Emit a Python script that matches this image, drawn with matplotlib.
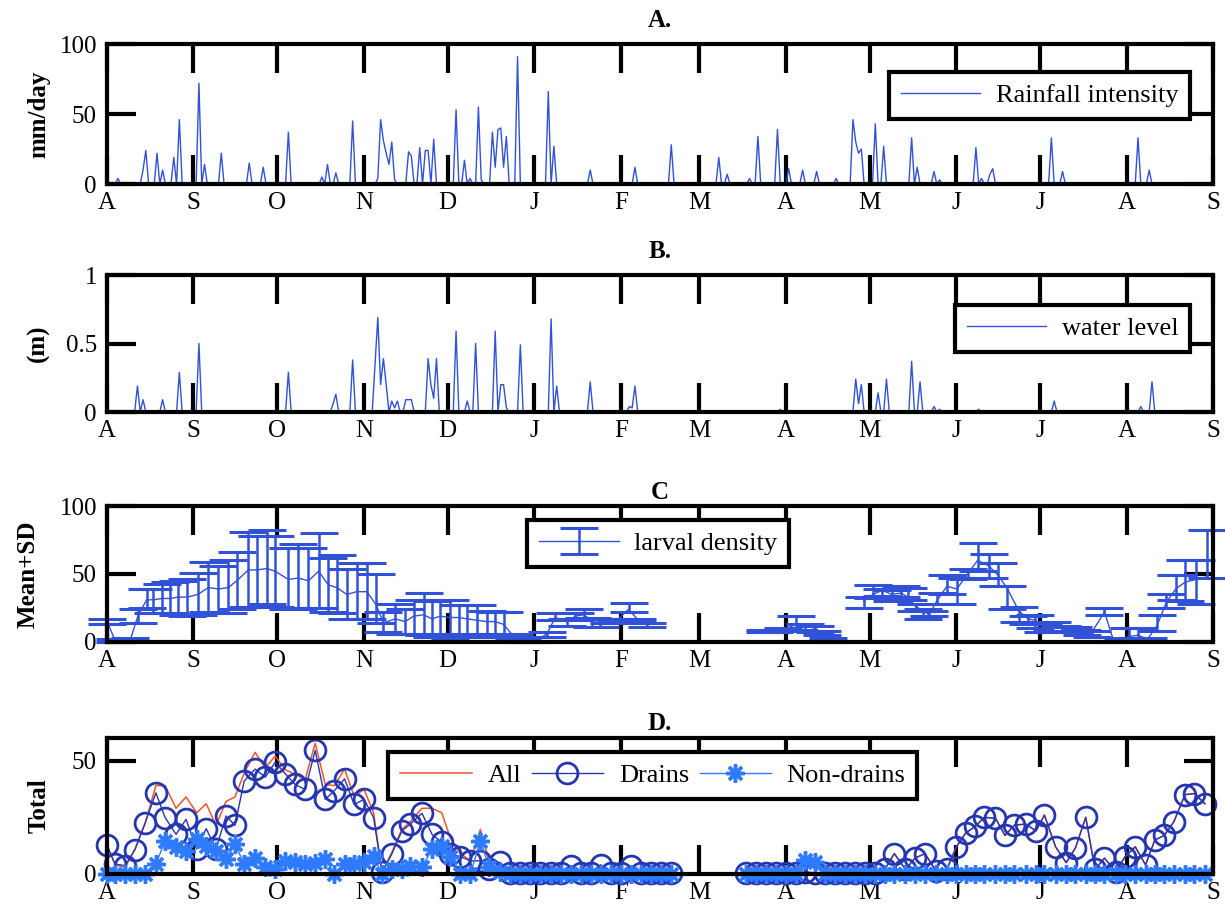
import matplotlib
matplotlib.use('Agg')
import matplotlib.pyplot as plt
import numpy as np

plt.rcParams['font.family'] = ['Liberation Serif', 'DejaVu Serif']

# month starts, days counted from 1 August
month_days = [0, 31, 61, 92, 122, 153, 184, 212, 243, 273, 304, 334, 365, 396]
month_labels = ['A', 'S', 'O', 'N', 'D', 'J', 'F', 'M', 'A', 'M', 'J', 'J', 'A', 'S']

# A. rainfall intensity (mm/day), days with rain
rain_days = [0, 4, 13, 14, 18, 20, 24, 26, 33, 35, 41, 51, 56, 65, 77, 79, 82, 88,
             97, 98, 99, 100, 101, 102, 103, 108, 109, 112, 114, 115, 117, 125, 128,
             130, 133, 134, 138, 139, 140, 141, 142, 143, 147, 158, 160, 173, 189,
             202, 219, 222, 230, 233, 240, 244, 249, 254, 261, 267, 268, 269, 270,
             275, 278, 288, 290, 296, 298, 311, 313, 316, 317, 338, 342, 369, 373]
rain_vals = [4, 4, 10, 24, 22, 10, 19, 46, 72, 14, 22, 15, 12, 37, 5, 14, 8, 45,
             4, 46, 31, 22, 14, 30, 3, 23, 20, 26, 24, 24, 32, 53, 17,
             4, 55, 3, 37, 12, 39, 40, 12, 34, 91, 66, 27, 10, 12,
             28, 19, 7, 4, 34, 39, 11, 10, 9, 4, 46, 30, 22, 25,
             43, 27, 33, 12, 9, 3, 26, 4, 7, 11, 33, 9, 33, 10]

# B. water level (m)
wl_days = [11, 13, 20, 26, 33, 65, 81, 82, 88, 96, 97, 98, 99, 100, 102, 103, 104,
           107, 108, 109, 115, 116, 117, 118, 125, 129, 132, 139, 141, 142, 143,
           148, 159, 161, 173, 187, 188, 189, 241, 268, 269, 270, 276, 279, 288,
           291, 296, 298, 312, 339, 370, 374]
wl_vals = [0.19, 0.09, 0.09, 0.29, 0.50, 0.29, 0.06, 0.13, 0.38, 0.35, 0.69, 0.20,
           0.39, 0.20, 0.08, 0.03, 0.08, 0.09, 0.09, 0.09, 0.39, 0.20, 0.10, 0.39,
           0.59, 0.08, 0.50, 0.59, 0.20, 0.20, 0.03, 0.49, 0.68, 0.19, 0.22, 0.04,
           0.03, 0.19, 0.02, 0.24, 0.06, 0.20, 0.14, 0.24, 0.37, 0.22, 0.04, 0.02,
           0.02, 0.08, 0.04, 0.22]

# C. larval density: sampling days, mean, upper and lower bar ends
c_days = [0.2, 3, 6, 8.5, 11.3, 14.3, 16.7, 19.7, 22.7, 25.6, 28.9, 32.6, 36.4, 40,
          43.5, 46.5, 50.7, 53.7, 57.3, 60.3, 65, 68.6, 72.2, 75.8, 79.3, 82.3,
          85.9, 89.5, 93.1, 96.5, 99, 103.2, 106.8, 109.8, 113.4, 116.4, 119.3,
          122.9, 125.9, 128.9, 132.5, 136, 139, 142, 145.6, 148.6, 151.6, 154.5,
          157.5, 160.5, 164.7, 167.7, 170.6, 173.6, 176.6, 179.6, 182.6, 186.7,
          189.8, 193.3, np.nan,
          235.4, 238.7, 242, 246.8, 250, 253.4, 256, 258, np.nan,
          270.8, 274.2, 277.5, 280.9, 284.2, 286.6, 289.5, 292.2, 294.2, 297,
          300.6, 304.2, 308, 311.6, 315.6, 319, 322.3, 326.3, 329.6, 332.3, 335,
          338.3, 341.7, 345.7, 349, 352.4, 357, 360.4, 363.7, 365.7, 369, 372.4,
          375.8, 379.1, 382.5, 385.8, 389.8, 393.8]
c_mean = [15, 1, 1, 2, 20, 31, 31, 32, 32, 33, 33, 35, 40, 39, 40, 45, 53, 53, 54,
          52, 46, 47, 45, 52, 42, 40, 35, 37, 37, 27, 14, 17, 15, 19, 20, 17, 19,
          18, 18, 17, 16, 15, 15, 13, 4, 1, 2, 2, 6, 18, 15, 19, 20, 16, 15, 16,
          16, 24, 17, 13, np.nan,
          8, 8, 9, 13, 12, 10, 7, 1, np.nan,
          30, 35, 38, 35, 36, 33, 26, 23, 20, 30, 41, 39, 50, 60, 56, 49, 39, 23,
          17, 16, 12, 12, 10, 9, 8, 7, 22, 0, 2, 4, 5, 2, 12, 29, 39, 44, 46, 48]
c_upper = [17, 2, 2, 3, 24, 39, 39, 43, 44, 45, 46, 51, 59, 56, 60, 66, 81, 78, 82,
           78, 69, 72, 69, 80, 62, 64, 54, 58, 58, 50, 22, 28, 24, 31, 36, 30, 31,
           31, 27, 27, 27, 23, 22, 22, 6, 3, 4, 4, 7, 21, 17, 21, 24, 18, 17, 17,
           17, 29, 17, 14, np.nan,
           9, 9, 10, 19, 13, 12, 8, 3, np.nan,
           33, 42, 39, 38, 41, 40, 28, 24, 23, 36, 49, 47, 54, 73, 65, 58, 41, 26,
           19, 20, 13, 15, 12, 11, 9, 8, 25, 0.5, 3, 10, 10, 3, 20, 35, 49, 60, 60, 82]
c_lower = [13, 0, 0, 1, 14, 25, 21, 21, 21, 20, 19, 20, 22, 21, 21, 24, 26, 26, 28,
           26, 24, 24, 25, 25, 22, 21, 17, 17, 17, 14, 7, 6, 6, 6, 5, 4, 6,
           3, 4, 6, 4, 4, 6, 4, 2, 0, 0, 0, 4, 16, 12, 16, 18, 11, 11, 14,
           15, 22, 15, 11, np.nan,
           7, 7, 8, 9, 8, 7, 5, 0, np.nan,
           25, 32, 34, 30, 33, 31, 23, 17, 19, 28, 35, 28, 46, 52, 47, 41, 24, 15,
           13, 10, 7, 8, 8, 7, 5, 4, 20, 0, 1, 2, 3, 1, 8, 25, 31, 30, 28, 47]

# D. totals: all sites, drains, non-drains
d_days = [0, 3, 6.6, 10.1, 13.7, 17.6, 20.9, 24.8, 28.4, 32.2, 35.6, 39.1, 42.7,
          45.9, 49.2, 53.1, 56.7, 60.3, 63.9, 67.4, 71, 74.6, 78.2, 81.5, 85.1,
          88.5, 92.1, 95.5, 98.5, 102, 105.6, 108.6, 112.8, 116.4, 119.9, 122.9,
          126.5, 130.1, 133.7, 136.9, 140.8, 144.4, 148, 151.6, 155.2, 158.8,
          162.4, 166, 169.6, 173.2, 176.8, 180.4, 184, 187.6, 191.2, 194.8, 198.4,
          202, np.nan,
          228.7, 232.3, 235.8, 239.4, 242.9, 246.5, 250, 253.6, 257.1, 260.7,
          264.2, 267.8, 271.3, 274.9, 278.4, 281.8, 285.8, 289.2, 292.8, 296.6,
          300.6, 304, 307.3, 310.7, 314, 318, 321.4, 324.8, 328.8, 332.5, 335.5,
          339.5, 343.3, 346.6, 350.3, 353.6, 357, 361, 364.3, 368, 371.7, 375,
          378.4, 381.8, 385.8, 389.2, 392.9]
d_drains = [13, 4.4, 3.7, 10.7, 22.4, 35.8, 24.9, 17.5, 24.1, 11, 20, 11, 25.6,
            21.5, 41, 46.3, 42.7, 49.3, 44.2, 39.5, 37.3, 54.5, 32.9, 36.8, 42,
            30.7, 32.9, 24.9, 0.7, 8.8, 19, 22, 26.8, 17.5, 14, 8.8, 7.7, 5.8,
            5.8, 2, 5.1, 0.5, 0.5, 0.5, 0.5, 0.5, 0.5, 3.7, 0.5, 0.5, 4, 0.5, 0.5,
            3.4, 0.5, 0.5, 0.5, 0.5, np.nan,
            0.5, 0.5, 0.5, 0.5, 0.5, 0.5, 1, 0.5, 0.5, 0.5, 0.5, 0.5, 0.5, 0.5,
            2, 9, 2, 7, 9, 1.5, 2, 12, 18, 21, 25, 24.6, 17, 21.6, 22, 19, 26, 12,
            5, 11.5, 25, 2, 7, 1, 7.5, 12, 4, 15, 17, 23, 35, 35.5, 31]
d_nondrains = [0, 0, 0, 0, 0, 4.4, 14.6, 11.7, 10.2, 15.4, 12.4, 10.2, 6.6, 13.2,
               4.4, 6.9, 2.9, 2.2, 5.8, 5.1, 4.4, 4.7, 6.6, 0, 4.4, 4.4, 5.1, 8,
               0, 2.2, 2.2, 3.7, 2.9, 11, 12.4, 7.3, 0, 0, 14.6, 3, 0.7, 0, 0, 0,
               0, 0, 0, 0, 0, 0, 0, 0, 0, 0, 0, 0, 0, 0, np.nan,
               0, 0, 0, 0, 0, 0, 6, 5.5, 0, 0, 0, 0, 0, 0, 0, 0, 0, 0, 0, 0, 0, 0,
               0, 0, 0, 0, 0, 0, 0, 0, 0, 0, 0, 0, 0, 0, 0, 0, 0, 0, 0, 0, 0, 0,
               0, 0, 0]
d_all = [13, 4, 3, 11, 22, 39, 39, 29, 34, 27, 31, 21.5, 32, 34, 44.6, 53.7, 46.8,
         52, 46, 44, 41.7, 57.7, 39.5, 39, 46.3, 34.4, 37.3, 27, 0.7, 9.5, 19.7,
         23, 29, 29, 27, 16, 9, 6, 19.7, 5, 5, 0.5, 0.5, 0.5, 0.5, 0.5, 0.5, 3.7,
         0.5, 0.5, 4, 0.5, 0.5, 3.4, 0.5, 0.5, 0.5, 0.5, np.nan,
         0.5, 0.5, 0.5, 0.5, 0.5, 0.5, 7, 6, 0.5, 0.5, 0.5, 0.5, 0.5, 0.5,
         2, 9, 2, 7, 9, 1.5, 2, 12, 18, 21, 25, 24.6, 17, 21.6, 22, 19, 26, 12,
         5, 11.5, 25, 2, 7, 1, 7.5, 12, 4, 15, 17, 23, 35, 35.5, 31]

BLUE = '#3152d6'
RED = '#f2542d'
DRAIN = '#2536b0'
NONDRAIN = '#2f7bff'
FS = 18       # ticks, titles, axis labels
FS_LEG = 19   # legend text


def style(ax, ylim, yticks, yticklabels, title, ylabel, tpad, lx):
    ax.set_xlim(0, 396)
    ax.set_ylim(*ylim)
    ax.set_xticks(month_days)
    ax.set_xticklabels(month_labels)
    ax.set_yticks(yticks)
    ax.set_yticklabels(yticklabels)
    ax.tick_params(direction='in', length=21, width=3, top=True, right=True,
                   labelsize=FS, colors='black')
    ax.tick_params(axis='x', pad=6)
    ax.tick_params(axis='y', pad=7)
    for s in ax.spines.values():
        s.set_linewidth(3)
    ax.set_title(title, fontsize=FS, fontweight='bold', pad=tpad)
    ax.set_ylabel(ylabel, fontsize=FS, fontweight='bold')
    ax.yaxis.set_label_coords(lx, 0.5)


def legend(ax, hlen=3.0, **kw):
    leg = ax.legend(fontsize=FS_LEG, frameon=True, fancybox=False, framealpha=1,
                    edgecolor='black', borderpad=0.45, handlelength=hlen,
                    handletextpad=0.6, borderaxespad=0, **kw)
    leg.get_frame().set_linewidth(3)
    leg.set_zorder(10)
    return leg


fig = plt.figure(figsize=(12.25, 9.17), dpi=100)
L, W = 0.0871, 0.9035
axA = fig.add_axes([L, 0.7993, W, 0.1527])
axB = fig.add_axes([L, 0.5507, W, 0.1494])
axC = fig.add_axes([L, 0.2999, W, 0.1483])
axD = fig.add_axes([L, 0.0469, W, 0.1483])

days = np.arange(397)

rain = np.zeros(397)
rain[rain_days] = rain_vals
axA.plot(days, rain, color=BLUE, lw=1.0, label='Rainfall intensity')
style(axA, (0, 100), [0, 50, 100], ['0', '50', '100'], 'A.', 'mm/day', 12, -0.051)
legend(axA, loc='upper right', bbox_to_anchor=(0.979, 0.80))

wl = np.zeros(397)
wl[wl_days] = wl_vals
axB.plot(days, wl, color=BLUE, lw=1.0, label='water level')
style(axB, (0, 1), [0, 0.5, 1], ['0', '0.5', '1'], 'B.', '(m)', 12, -0.051)
legend(axB, loc='upper right', bbox_to_anchor=(0.979, 0.781))

cm = np.array(c_mean, dtype=float)
yerr = [cm - np.array(c_lower, dtype=float), np.array(c_upper, dtype=float) - cm]
axC.errorbar(c_days, cm, yerr=yerr, color=BLUE, lw=1.0, elinewidth=1.8,
             capsize=14, capthick=2.2, label='larval density', clip_on=False)
style(axC, (0, 100), [0, 50, 100], ['0', '50', '100'], 'C', 'Mean+SD', 5, -0.061)
legend(axC, loc='upper center', bbox_to_anchor=(0.4985, 0.898))

axD.plot(d_days, d_all, color=RED, lw=1.1, label='All', clip_on=False)
axD.plot(d_days, d_drains, color=DRAIN, lw=1.0, marker='o', ms=15, mfc='none',
         mew=2.0, label='Drains', clip_on=False)
axD.plot(d_days, d_nondrains, color=NONDRAIN, lw=1.0, marker=(8, 2, 0), ms=13,
         mew=2.5, label='Non-drains', clip_on=False)
style(axD, (0, 60), [0, 50], ['0', '50'], 'D.', 'Total', 6, -0.051)
legend(axD, hlen=2.7, loc='upper center', bbox_to_anchor=(0.4935, 0.899), ncol=3,
       columnspacing=0.4, numpoints=1)

fig.savefig('out.png', dpi=100)
